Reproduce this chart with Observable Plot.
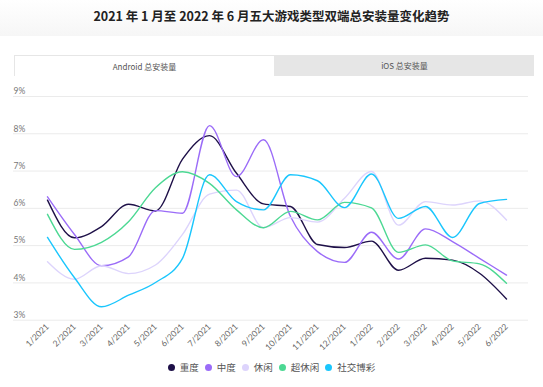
<!DOCTYPE html>
<html>
<head>
<meta charset="utf-8">
<script src="https://cdn.jsdelivr.net/npm/d3@7"></script>
<script src="https://cdn.jsdelivr.net/npm/@observablehq/plot@0.6"></script>
<style>
  html, body { margin:0; padding:0; background:#fff; width:543px; height:387px; overflow:hidden; }
  body { position:relative; font-family: Lato, "Noto Sans CJK SC", sans-serif; }
  #titlebar { position:absolute; left:0; top:0; width:543px; height:36px;
    background: linear-gradient(to bottom, #ffffff 0%, #f6f6f6 100%); }
  #title { position:absolute; left:0; top:6px; width:543px; text-align:center; font-size:12.5px; font-weight:bold; color:#222; font-family:"Noto Sans CJK SC", sans-serif; }
  #tabs { position:absolute; left:14px; top:55px; width:520px; height:21px; display:flex; }
  .tab { flex:1; display:flex; align-items:center; justify-content:center; font-size:8px; color:#555; font-family:"Noto Sans CJK SC", sans-serif; box-sizing:border-box; }
  .tab.on { background:#fff; border:1px solid #e6e6e6; border-bottom:none; }
  .tab.off { background:#e6e6e6; }
  #chart { position:absolute; left:0; top:84px; }
  #chart svg { overflow: visible; }
  #legend { position:absolute; left:0; top:360px; width:543px; display:flex; justify-content:center; align-items:center; font-size:9.5px; color:#555; font-family:"Noto Sans CJK SC", sans-serif; }
  .item { display:flex; align-items:center; margin:0 3px; }
  .dot { width:7px; height:7px; border-radius:50%; margin-right:5px; }
</style>
</head>
<body>
<div id="titlebar"></div>
<div id="title">2021 年 1 月至 2022 年 6 月五大游戏类型双端总安装量变化趋势</div>
<div id="tabs"><div class="tab on">Android 总安装量</div><div class="tab off">iOS 总安装量</div></div>
<div id="chart"></div>
<div id="legend"></div>
<script>
const months = ["1/2021","2/2021","3/2021","4/2021","5/2021","6/2021","7/2021","8/2021","9/2021","10/2021","11/2021","12/2021","1/2022","2/2022","3/2022","4/2022","5/2022","6/2022"];
const seriesNames = ["重度","中度","休闲","超休闲","社交博彩"];
const seriesColors = ["#1e1048","#9b6cf8","#ddd4fc","#4cd893","#1ac6fd"];
const heavy   = [6.22,5.21,5.51,6.11,5.93,7.32,7.95,6.94,6.12,6.05,5.03,4.95,5.12,4.34,4.66,4.61,4.26,3.57];
const medium  = [6.31,5.30,4.46,4.70,5.94,5.87,8.22,6.85,7.84,5.78,4.84,4.55,5.36,4.64,5.45,5.11,4.66,4.21];
const casual  = [4.57,4.10,4.46,4.25,4.48,5.30,6.38,6.49,5.48,5.75,5.63,6.27,6.99,5.55,6.18,6.09,6.20,5.69];
const hyper   = [5.84,4.90,5.09,5.64,6.55,6.98,6.67,5.96,5.48,5.92,5.69,6.16,6.01,4.82,5.02,4.59,4.51,3.99];
const social  = [5.22,4.14,3.36,3.67,4.01,4.66,6.90,6.18,5.96,6.90,6.74,6.02,6.92,5.73,6.05,5.22,6.13,6.24];
const yTicks = [3,4,5,6,7,8,9];

const allSeries = [heavy, medium, casual, hyper, social];
const data = [];
seriesNames.forEach((name, si) => {
  allSeries[si].forEach((v, i) => data.push({series: name, month: months[i], value: v}));
});

const W = 543, H = 272;
const chart = Plot.plot({
  width: W, height: H,
  marginLeft: 40.7, marginRight: 29.7, marginTop: 12, marginBottom: 36.3,
  style: {fontFamily: "Lato, 'Noto Sans CJK SC', sans-serif", background: "transparent"},
  x: {type: "point", domain: months, padding: 0, label: null},
  y: {domain: [3, 9], label: null, axis: null},
  color: {domain: seriesNames, range: seriesColors},
  marks: [
    Plot.ruleY(yTicks, {stroke: "#ebebeb", strokeWidth: 1, insetLeft: -27.7, insetRight: -14.7}),
    Plot.text(yTicks, {y: d => d, text: d => d + "%", frameAnchor: "left", textAnchor: "start", dx: -27.7, dy: -5, fontSize: 8.5, fill: "#777"}),
    Plot.axisX({tickSize: 0, tickPadding: 5, tickRotate: -45, fontSize: 8.5, fill: "#666", label: null}),
    Plot.line(data, {x: "month", y: "value", z: "series", stroke: "series", curve: "monotone-x", strokeWidth: 1.4})
  ]
});
document.getElementById("chart").appendChild(chart);

const legend = document.getElementById("legend");
seriesNames.forEach((n, i) => {
  const it = document.createElement("div");
  it.className = "item";
  it.innerHTML = `<span class="dot" style="background:${seriesColors[i]}"></span><span>${n}</span>`;
  legend.appendChild(it);
});
</script>
</body>
</html>
